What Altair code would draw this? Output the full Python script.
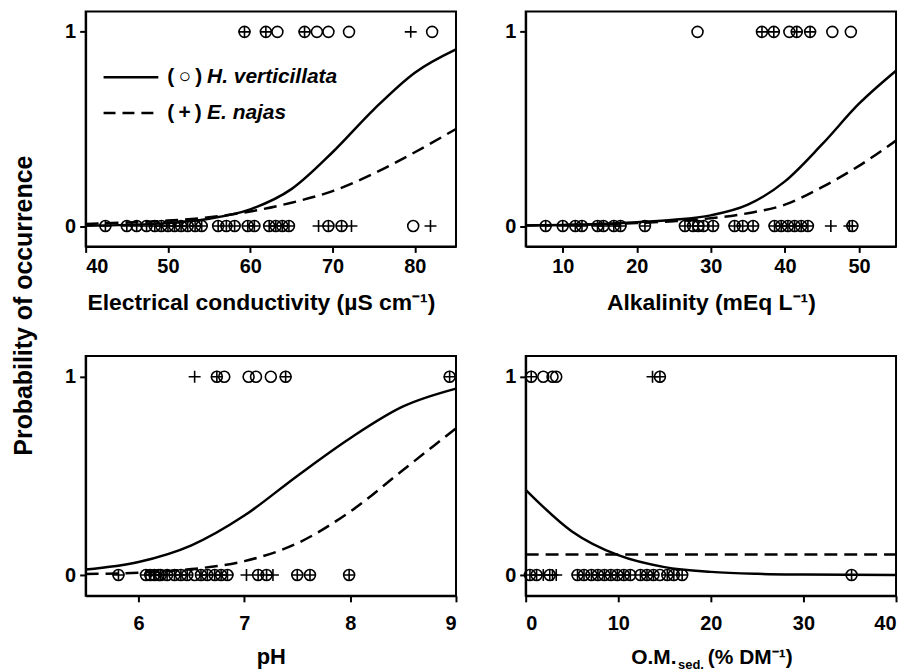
import altair as alt
import pandas as pd

FONT = "Liberation Sans"

# ---------- Panel A: electrical conductivity ----------
ec_curve_x = [40, 45, 50, 55, 60, 65, 70, 75, 80, 85]
ec_curve_h = [0.002, 0.006, 0.015, 0.038, 0.086, 0.19, 0.38, 0.60, 0.79, 0.91]
ec_curve_e = [0.011, 0.018, 0.028, 0.045, 0.075, 0.12, 0.18, 0.27, 0.38, 0.50]
ec_h_present = [59.3, 61.9, 63.3, 66.6, 68.1, 69.5, 72.0, 82.1]
ec_h_absent = [42.4, 45.0, 46.2, 47.4, 48.4, 49.2, 50.0, 50.8, 51.6, 52.4, 53.3, 54.1,
               56.1, 57.1, 58.1, 59.7, 60.5, 62.3, 63.1, 63.9, 64.7, 69.5, 71.1, 79.8]
ec_e_present = [59.3, 61.9, 66.6, 79.5]
ec_e_absent = [42.4, 45.0, 46.2, 47.4, 48.4, 49.2, 50.0, 50.8, 51.6, 52.4, 53.3, 54.1,
               56.1, 57.1, 58.1, 59.7, 60.5, 62.3, 63.1, 63.9, 64.7, 68.3, 69.5, 71.1,
               72.3, 81.9]

# ---------- Panel B: alkalinity ----------
alk_curve_x = [5, 10, 15, 20, 25, 30, 35, 40, 45, 50, 55]
alk_curve_h = [0.003, 0.006, 0.011, 0.02, 0.032, 0.055, 0.11, 0.23, 0.42, 0.63, 0.80]
alk_curve_e = [0.003, 0.005, 0.009, 0.015, 0.025, 0.04, 0.066, 0.11, 0.20, 0.31, 0.44]
alk_h_present = [28.2, 36.9, 38.5, 40.6, 41.6, 43.4, 46.4, 48.9]
alk_h_absent = [7.7, 10.0, 11.7, 12.6, 14.7, 15.5, 16.9, 17.8, 21.1, 26.5, 27.6, 28.3,
                29.0, 30.3, 33.2, 34.3, 35.7, 38.6, 39.5, 40.4, 41.3, 42.2, 43.1, 49.1]
alk_e_present = [36.9, 38.5, 41.6, 43.4]
alk_e_absent = [7.7, 10.0, 11.7, 12.6, 14.7, 15.5, 16.9, 17.8, 21.1, 26.5, 27.6, 28.3,
                29.0, 30.3, 33.2, 34.3, 35.7, 38.6, 39.5, 40.4, 41.3, 42.2, 43.1, 46.2,
                48.7, 49.1]

# ---------- Panel C: pH ----------
ph_curve_x = [5.5, 6.0, 6.5, 7.0, 7.5, 8.0, 8.5, 9.0]
ph_curve_h = [0.028, 0.066, 0.15, 0.30, 0.50, 0.69, 0.85, 0.94]
ph_curve_e = [0.005, 0.012, 0.03, 0.07, 0.16, 0.32, 0.53, 0.74]
ph_h_present = [6.74, 6.81, 7.04, 7.11, 7.25, 7.39, 8.94]
ph_h_absent = [5.81, 6.07, 6.11, 6.15, 6.19, 6.21, 6.27, 6.34, 6.40, 6.46, 6.53, 6.59,
               6.65, 6.72, 6.78, 6.84, 7.13, 7.21, 7.50, 7.62, 7.99]
ph_e_present = [6.53, 6.74, 7.39, 8.94]
ph_e_absent = [5.81, 6.07, 6.11, 6.15, 6.19, 6.21, 6.27, 6.34, 6.40, 6.46, 6.59, 6.65,
               6.72, 6.78, 6.84, 7.02, 7.13, 7.21, 7.27, 7.50, 7.62, 7.99]

# ---------- Panel D: organic matter of sediment ----------
om_curve_x = [0, 5, 10, 15, 20, 25, 30, 35, 40]
om_curve_h = [0.43, 0.22, 0.10, 0.04, 0.016, 0.006, 0.0025, 0.001, 0.0004]
om_curve_e = [0.103, 0.103, 0.103, 0.103, 0.103, 0.103, 0.103, 0.103, 0.103]
om_h_present = [0.6, 1.9, 2.9, 3.3, 14.5]
om_h_absent = [0.46, 1.18, 2.6, 5.6, 6.3, 7.1, 7.8, 8.5, 9.2, 9.9, 10.6, 11.3, 12.4,
               13.1, 13.8, 14.5, 15.3, 16.0, 16.9, 35.2]
om_e_present = [0.6, 13.7, 14.5]
om_e_absent = [0.46, 1.18, 1.9, 2.6, 2.9, 3.3, 5.6, 6.3, 7.1, 7.8, 8.5, 9.2, 9.9, 10.6,
               11.3, 12.4, 13.1, 13.8, 15.3, 16.0, 16.9, 35.2]

legend_h = ["(\u2009○\u2009)", "H. verticillata"]
legend_e = ["(\u2009+\u2009)", "E. najas"]
om_title_parts = ["O.M.", "sed.", "(% DM⁻¹)"]

W = 372
YDOM = [-0.105, 1.105]
PLUS = "M-1,0L1,0M0,-1L0,1"


def panel(cx, ch, ce, hp, ha, ep, ea, domain, ticks, title, height, bottom,
          legend=False, om_title=False, title_x=None):
    axis_kw = dict(values=ticks, title=title if title else None, format="d",
                   labelFont=FONT, titleFont=FONT,
                   labelFontSize=20, titleFontSize=22 if bottom else 23,
                   labelPadding=12 if bottom else 4, titlePadding=13 if bottom else 15)
    if title_x is not None:
        axis_kw["titleX"] = title_x
    xaxis = alt.Axis(**axis_kw)
    yaxis = alt.Axis(values=[0, 1], title=None, format="d", labelFont=FONT,
                     labelFontSize=20, labelPadding=4)
    xenc = alt.X("x:Q", scale=alt.Scale(domain=domain, nice=False, zero=False), axis=xaxis)
    ysc = alt.Scale(domain=YDOM, nice=False, zero=False)
    curves = pd.DataFrame({"x": cx, "h": ch, "e": ce})
    circ = pd.DataFrame({"x": hp + ha, "y": [1] * len(hp) + [0] * len(ha)})
    plus = pd.DataFrame({"x": ep + ea, "y": [1] * len(ep) + [0] * len(ea)})

    solid = alt.Chart(curves).mark_line(color="black", strokeWidth=2.5,
                                        interpolate="monotone").encode(
        x=xenc, y=alt.Y("h:Q", scale=ysc, axis=yaxis))
    dashed = alt.Chart(curves).mark_line(color="black", strokeWidth=2.5, strokeDash=[13, 7],
                                         interpolate="monotone").encode(
        x=xenc, y=alt.Y("e:Q", scale=ysc, axis=yaxis))
    pc = alt.Chart(circ).mark_point(shape="circle", filled=False, size=121, color="black",
                                    strokeWidth=1.6, opacity=1).encode(
        x=xenc, y=alt.Y("y:Q", scale=ysc, axis=yaxis))
    pp = alt.Chart(plus).mark_point(shape=PLUS, filled=False, size=144, color="black",
                                    strokeWidth=1.6, opacity=1).encode(
        x=xenc, y=alt.Y("y:Q", scale=ysc, axis=yaxis))
    layers = [solid, dashed, pc, pp]
    if legend:
        one = pd.DataFrame({"a": [0]})
        layers.append(alt.Chart(one).mark_rule(color="black", strokeWidth=2.5).encode(
            x=alt.value(18), x2=alt.value(73), y=alt.value(66)))
        layers.append(alt.Chart(one).mark_rule(color="black", strokeWidth=2.5,
                                               strokeDash=[12, 7]).encode(
            x=alt.value(18), x2=alt.value(75), y=alt.value(102)))
        for row, yy in ((legend_h, 66), (legend_e, 102)):
            layers.append(alt.Chart(pd.DataFrame({"t": [row[0]]})).mark_text(
                font=FONT, fontSize=21, fontWeight="bold", align="left", baseline="middle",
                color="black").encode(text="t:N", x=alt.value(82), y=alt.value(yy)))
            layers.append(alt.Chart(pd.DataFrame({"t": [row[1]]})).mark_text(
                font=FONT, fontSize=21, fontWeight="bold", fontStyle="italic", align="left",
                baseline="middle", color="black").encode(text="t:N", x=alt.value(122),
                                                         y=alt.value(yy)))
    if om_title:
        base_y = height + 62
        specs = [(21, 106, 0), (13, 153, 7), (21, 183, 0)]
        for t, (fs, xx, dy) in zip(om_title_parts, specs):
            layers.append(alt.Chart(pd.DataFrame({"t": [t]})).mark_text(
                font=FONT, fontSize=fs, fontWeight="bold", align="left", baseline="middle",
                color="black").encode(text="t:N", x=alt.value(xx), y=alt.value(base_y + dy)))
    return alt.layer(*layers).properties(width=W, height=height)


p1 = panel(ec_curve_x, ec_curve_h, ec_curve_e, ec_h_present, ec_h_absent, ec_e_present,
           ec_e_absent, [40, 85], [40, 50, 60, 70, 80], "Electrical conductivity (µS cm⁻¹)",
           236, False, legend=True, title_x=176)
p2 = panel(alk_curve_x, alk_curve_h, alk_curve_e, alk_h_present, alk_h_absent, alk_e_present,
           alk_e_absent, [5, 55], [10, 20, 30, 40, 50], "Alkalinity (mEq L⁻¹)", 236, False)
p3 = panel(ph_curve_x, ph_curve_h, ph_curve_e, ph_h_present, ph_h_absent, ph_e_present,
           ph_e_absent, [5.5, 9], [6, 7, 8, 9], "pH", 241, True)
p4 = panel(om_curve_x, om_curve_h, om_curve_e, om_h_present, om_h_absent, om_e_present,
           om_e_absent, [0, 40], [0, 10, 20, 30, 40], None, 241, True, om_title=True)

row1 = alt.hconcat(p1, p2, spacing=41)
row2 = alt.hconcat(p3, p4, spacing=41)

chart = alt.vconcat(row1, row2, spacing=40).properties(
    title=alt.TitleParams("Probability of occurrence", orient="left", anchor="middle",
                          font=FONT, fontSize=25, fontWeight="bold", color="black",
                          offset=27, dx=36),
    padding={"left": 3, "top": 1, "right": 0, "bottom": 0},
).configure_view(stroke="black", strokeWidth=2).configure_axis(
    labelFontWeight="bold", labelColor="black",
    titleFontWeight="bold", titleColor="black",
    tickColor="black", tickWidth=2, tickSize=6, domainColor="black", domainWidth=2,
    grid=False,
)

chart.save("out.html", embed_options={"renderer": "svg", "actions": False})
